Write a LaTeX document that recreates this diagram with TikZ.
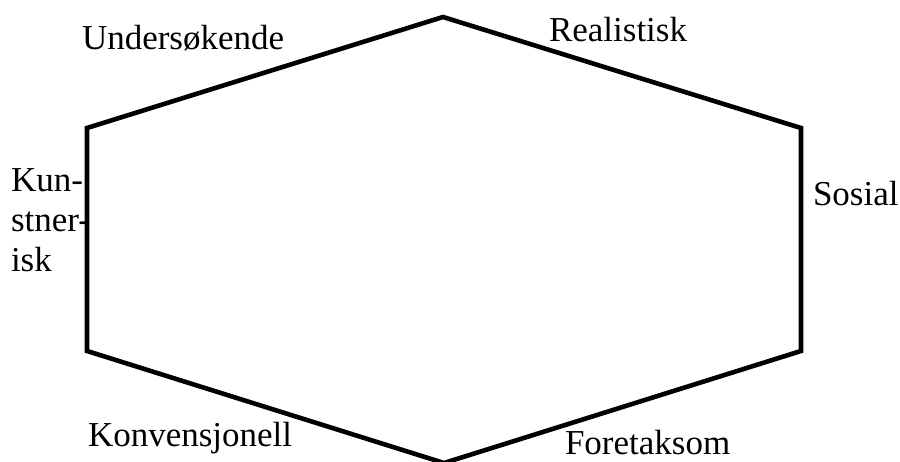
\documentclass[tikz,border=0pt]{standalone}
\usepackage{fontspec}
\setmainfont{Liberation Serif}
\begin{document}
\begin{tikzpicture}[x=1pt,y=-1pt,
  edge/.style={draw=black,line width=4.6pt,line join=miter},
  lbl/.style={inner sep=0pt,outer sep=0pt,anchor=base west,font=\fontsize{35}{40}\selectfont}]
  \useasboundingbox (0,0) rectangle (900,461);
  \clip (0,0) rectangle (900,461);
  % corners of the hexagon
  \coordinate (top) at (443,17);
  \coordinate (ur) at (801,128);
  \coordinate (lr) at (801,351);
  \coordinate (bot) at (444,463);
  \coordinate (ll) at (87,351);
  \coordinate (ul) at (87,128);
  \draw[edge] (top) -- (ur) -- (lr) -- (bot) -- (ll) -- (ul) -- cycle;
  % type labels
  \node[lbl] (und) at (82,49) {Undersøkende};
  \node[lbl] (rea) at (549,41.5) {Realistisk};
  \node[lbl] (sos) at (813,205) {Sosial};
  \node[lbl] (kun1) at (11,191) {Kun-};
  \node[lbl] (kun2) at (11,231.5) {stner-};
  \node[lbl] (kun3) at (11,271.5) {isk};
  \node[lbl] (kon) at (88,446.5) {Konvensjonell};
  \node[lbl] (for) at (565,454) {Foretaksom};
\end{tikzpicture}
\end{document}
